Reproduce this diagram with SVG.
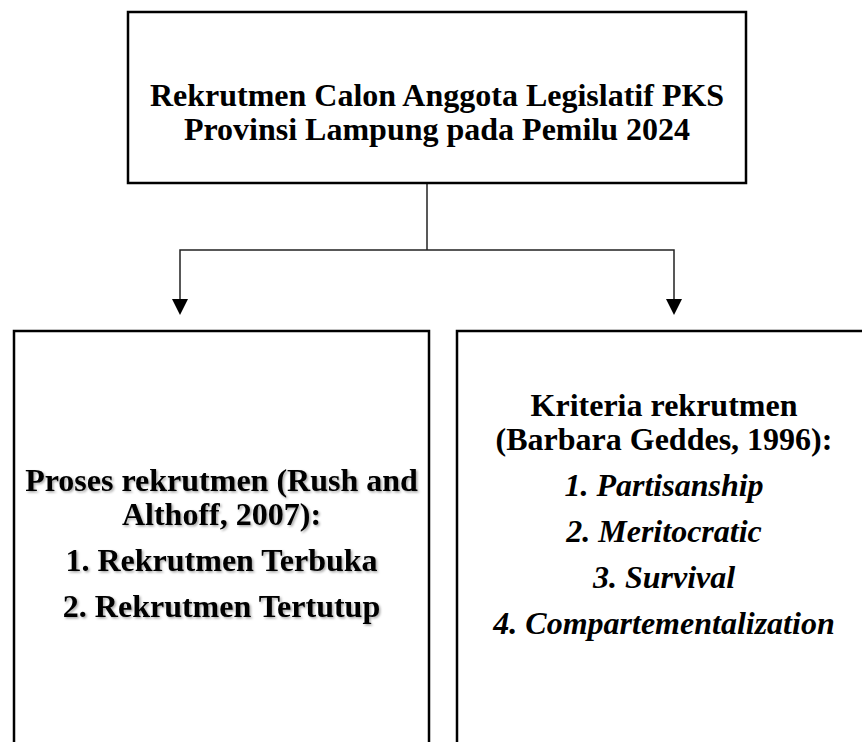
<svg xmlns="http://www.w3.org/2000/svg" width="862" height="742" viewBox="0 0 862 742">
  <defs>
    <style>
      .box { fill: #ffffff; stroke: #000000; stroke-width: 2.5; }
      .conn { fill: none; stroke: #222222; stroke-width: 1.5; }
      .t { font-family: "Liberation Serif", "Times New Roman", serif; font-weight: bold; font-size: 32px; fill: #000000; text-anchor: middle; }
      .i { font-style: italic; }
    </style>
    <filter id="sh" x="-5%" y="-20%" width="110%" height="140%">
      <feDropShadow dx="1.5" dy="1.5" stdDeviation="1" flood-color="#000000" flood-opacity="0.35"/>
    </filter>
  </defs>

  <g id="connectors">
    <line class="conn" x1="427" y1="184" x2="427" y2="250"/>
    <polyline class="conn" points="180,299 180,250 674,250 674,299"/>
    <path d="M172,299 L188,299 L180,315 Z" fill="#000000"/>
    <path d="M666,299 L682,299 L674,315 Z" fill="#000000"/>
  </g>

  <g id="node-top">
    <rect class="box" x="128" y="12" width="618" height="171"/>
    <text class="t" x="437" y="106">Rekrutmen Calon Anggota Legislatif PKS</text>
    <text class="t" x="437" y="140">Provinsi Lampung pada Pemilu 2024</text>
  </g>

  <g id="node-proses">
    <rect class="box" x="14" y="331" width="415" height="430"/>
    <g filter="url(#sh)">
      <text class="t" x="221.5" y="491">Proses rekrutmen (Rush and</text>
      <text class="t" x="221.5" y="525">Althoff, 2007):</text>
      <text class="t" x="221.5" y="571">1. Rekrutmen Terbuka</text>
      <text class="t" x="221.5" y="617">2. Rekrutmen Tertutup</text>
    </g>
  </g>

  <g id="node-kriteria">
    <rect class="box" x="457" y="331" width="420" height="430"/>
    <text class="t" x="664" y="416">Kriteria rekrutmen</text>
    <text class="t" x="664" y="450">(Barbara Geddes, 1996):</text>
    <text class="t i" x="664" y="496">1. Partisanship</text>
    <text class="t i" x="664" y="542">2. Meritocratic</text>
    <text class="t i" x="664" y="588">3. Survival</text>
    <text class="t i" x="664" y="634">4. Compartementalization</text>
  </g>
</svg>
